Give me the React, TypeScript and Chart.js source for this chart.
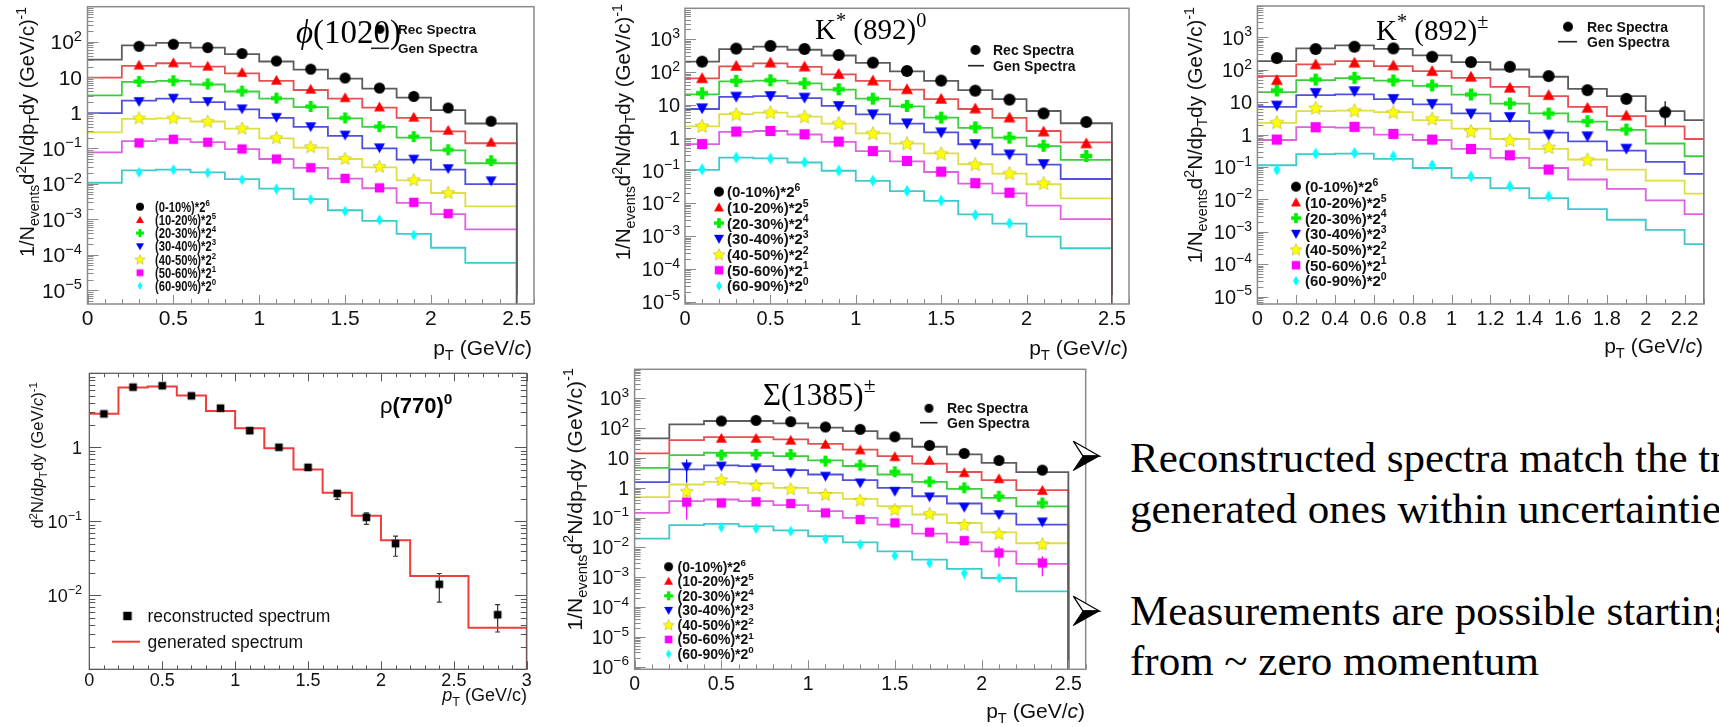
import React, { useEffect, useRef } from "react";
import { Chart, registerables } from "chart.js";

Chart.register(...registerables);

// ======================= DATA =======================
const CENTRALITY = ["(0-10%)*2", "(10-20%)*2", "(20-30%)*2", "(30-40%)*2", "(40-50%)*2", "(50-60%)*2", "(60-90%)*2"];
const SCALE_EXP = ["6", "5", "4", "3", "2", "1", "0"];

// phi(1020)
const PHI_EDGES = [0, 0.2, 0.4, 0.6, 0.8, 1.0, 1.2, 1.4, 1.6, 1.8, 2.0, 2.2, 2.5];
const PHI_PT = [0.3, 0.5, 0.7, 0.9, 1.1, 1.3, 1.5, 1.7, 1.9, 2.1, 2.35];
const PHI_REC = [
  [75, 86, 69, 47, 29, 17, 9.6, 5.0, 2.9, 1.38, 0.58],
  [22, 25.5, 20.5, 13.6, 8.2, 4.6, 2.66, 1.45, 0.75, 0.32, 0.148],
  [7.7, 8.05, 6.5, 4.1, 2.6, 1.51, 0.72, 0.41, 0.214, 0.091, 0.045],
  [2.1, 2.6, 2.1, 1.3, 0.75, 0.41, 0.238, 0.104, 0.05, 0.027, 0.0122],
  [0.72, 0.72, 0.58, 0.37, 0.2, 0.111, 0.052, 0.031, 0.013, 0.0057, null],
  [0.142, 0.18, 0.148, 0.096, 0.05, 0.0284, 0.0142, 0.0077, 0.003, 0.00145, null],
  [0.021, 0.0249, 0.0205, 0.013, 0.0071, 0.0036, 0.00168, 0.00096, 0.00036, null, null],
];
const PHI_GEN = [
  [31.6, 80, 94, 69, 45, 28, 16.5, 9.2, 4.8, 2.7, 1.2, 0.5],
  [9.8, 21, 25, 20, 13, 8, 4.4, 2.5, 1.4, 0.72, 0.3, 0.139],
  [3.1, 7.5, 8, 6.3, 4.0, 2.5, 1.45, 0.7, 0.4, 0.2, 0.088, 0.038],
  [0.98, 2.2, 2.5, 2.0, 1.25, 0.72, 0.4, 0.225, 0.1, 0.048, 0.025, 0.0098],
  [0.28, 0.68, 0.7, 0.57, 0.36, 0.19, 0.105, 0.05, 0.029, 0.0125, 0.0055, 0.0023],
  [0.077, 0.16, 0.18, 0.15, 0.095, 0.05, 0.028, 0.014, 0.0075, 0.0029, 0.0014, 0.00052],
  [0.0107, 0.024, 0.025, 0.021, 0.0135, 0.0073, 0.0037, 0.0018, 0.0009, 0.00039, 0.000158, 0.0000594],
];

// K*(892)0
const K0_EDGES = [0, 0.2, 0.4, 0.6, 0.8, 1.0, 1.2, 1.4, 1.6, 1.8, 2.0, 2.2, 2.5];
const K0_PT = [0.1, 0.3, 0.5, 0.7, 0.9, 1.1, 1.3, 1.5, 1.7, 1.9, 2.1, 2.35];
const K0_REC = [
  [208, 519, 627, 507, 333, 194, 108, 55, 27.2, 14.5, 5.5, 3.0],
  [64.7, 154, 194, 147, 87.7, 55, 29.9, 15.2, 7.7, 4.1, 1.53, 0.67],
  [22.6, 53.7, 56.3, 45.6, 29.9, 15.5, 9.3, 4.1, 2.07, 1.0, 0.57, 0.277],
  [7.9, 17.9, 18.7, 16.7, 9.3, 5.2, 2.75, 1.46, 0.64, 0.31, 0.158, null],
  [2.28, 5.2, 5.9, 4.4, 2.75, 1.36, 0.67, 0.33, 0.155, 0.082, 0.041, null],
  [0.64, 1.53, 1.6, 1.27, 0.76, 0.39, 0.195, 0.092, 0.041, 0.021, null, null],
  [0.109, 0.247, 0.23, 0.178, 0.099, 0.049, 0.0238, 0.012, 0.0044, 0.00246, null, null],
];
const K0_GEN = [
  [208, 500, 600, 480, 320, 190, 105, 54, 28, 15, 6.5, 2.75],
  [64, 150, 185, 145, 85, 54, 29, 15, 7.5, 4.0, 1.6, 0.72],
  [21, 52, 55, 45, 29, 15.5, 9, 4.1, 2.0, 1.0, 0.55, 0.21],
  [7.5, 17.5, 18.5, 16, 9.3, 5.1, 2.7, 1.45, 0.63, 0.31, 0.15, 0.055],
  [2.2, 5.2, 5.8, 4.4, 2.7, 1.35, 0.66, 0.33, 0.155, 0.08, 0.038, 0.0142],
  [0.64, 1.5, 1.6, 1.25, 0.75, 0.39, 0.19, 0.09, 0.04, 0.02, 0.0085, 0.0033],
  [0.105, 0.245, 0.235, 0.175, 0.098, 0.048, 0.0235, 0.0118, 0.0046, 0.0024, 0.00096, 0.000425],
];

// K*(892)+-
const KPM_EDGES = [0, 0.2, 0.4, 0.6, 0.8, 1.0, 1.2, 1.4, 1.6, 1.8, 2.0, 2.2, 2.3];
const KPM_PT = [0.1, 0.3, 0.5, 0.7, 0.9, 1.1, 1.3, 1.5, 1.7, 1.9, 2.1];
const KPM_REC = [
  [230, 436, 514, 457, 252, 173, 124, 63.7, 23.5, 12.7, 4.9],
  [47.9, 146, 165, 136, 91, 60.8, 27.8, 16.5, 6.7, 3.87, null],
  [23, 50, 56.6, 46.8, 32.8, 17.3, 9.1, 4.46, 2.58, 1.43, null],
  [7.9, 19.4, 21.9, 12.7, 8.9, 4.46, 3.5, 1.0, 0.89, 0.37, null],
  [2.4, 6.7, 5.5, 4.9, 3.1, 1.27, 0.67, 0.41, 0.169, null, null],
  [0.7, 1.69, 1.73, 1.05, 0.7, 0.36, 0.23, 0.083, null, null, null],
  [0.083, 0.258, 0.271, 0.214, 0.113, 0.051, 0.0252, 0.0124, null, null, null],
];
const KPM_GEN = [
  [185, 457, 566, 440, 277, 173, 102, 61, 25.8, 15.3, 5.3, 2.8],
  [63.7, 146, 185, 130, 91, 56.6, 29.8, 15.3, 7.2, 3.7, 1.8, 0.73],
  [20.4, 48, 55, 46, 32, 17, 9, 4.5, 2.5, 1.4, 0.53, 0.214],
  [7.2, 16.5, 17.3, 12.5, 8.5, 4.5, 2.6, 1.15, 0.62, 0.32, 0.143, 0.061],
  [2.3, 5.3, 5.5, 4.9, 2.8, 1.53, 0.73, 0.36, 0.17, 0.083, 0.038, 0.015],
  [0.68, 1.69, 1.65, 1.0, 0.68, 0.36, 0.19, 0.093, 0.041, 0.021, 0.0093, 0.0035],
  [0.113, 0.25, 0.258, 0.177, 0.093, 0.046, 0.0224, 0.011, 0.005, 0.00235, 0.00115, 0.000416],
];
// [series, point index, low, high]
const KPM_ERR = [[0, 10, 1.8, 10.7]];

// Sigma(1385)+-
const SIG_EDGES = [0, 0.2, 0.4, 0.6, 0.8, 1.0, 1.2, 1.4, 1.6, 1.8, 2.0, 2.2, 2.5];
const SIG_PT = [0.3, 0.5, 0.7, 0.9, 1.1, 1.3, 1.5, 1.7, 1.9, 2.1, 2.35];
const SIG_REC = [
  [null, 175, 184, 166, 110, 91.6, 51.9, 26.5, 14.3, 8.3, 3.93],
  [null, 45.6, 45.6, 39.1, 28.7, 18.5, 11.0, 8.3, 3.2, 2.0, 0.81],
  [null, 12.6, 13.2, 13.2, 7.9, 5.8, 3.45, 1.59, 1.0, 0.52, 0.31],
  [5.1, 5.4, 4.7, 3.2, 2.47, 1.47, 0.77, 0.5, 0.224, 0.127, 0.072],
  [0.77, 1.9, 1.2, 0.925, 0.6, 0.385, 0.187, 0.137, 0.058, 0.029, 0.0131],
  [0.33, 0.31, 0.34, 0.297, 0.144, 0.086, 0.0665, 0.0323, 0.0169, 0.0065, 0.003],
  [null, 0.0475, 0.0429, 0.0349, 0.0193, 0.0124, 0.0053, 0.003, 0.00138, 0.00094, null],
];
const SIG_GEN = [
  [45.6, 135, 175, 175, 146, 104, 80.5, 44.5, 23.9, 13.2, 6.9, 3.37],
  [14.3, 40, 50, 50, 42, 30, 19, 11.5, 6.5, 3.4, 1.8, 0.83],
  [4.7, 12.6, 15, 15, 11.6, 8.3, 5.4, 2.8, 1.59, 0.925, 0.46, 0.24],
  [1.55, 4.14, 5.64, 5.36, 3.93, 2.8, 1.81, 1.0, 0.52, 0.297, 0.137, 0.058],
  [0.485, 1.29, 1.59, 1.4, 1.0, 0.678, 0.427, 0.242, 0.127, 0.066, 0.032, 0.0138],
  [0.144, 0.356, 0.405, 0.356, 0.261, 0.165, 0.098, 0.058, 0.029, 0.0148, 0.0073, 0.0028],
  [0.0198, 0.0555, 0.0615, 0.051, 0.0375, 0.0237, 0.0148, 0.0073, 0.0039, 0.0019, 0.00094, 0.000335],
];
const SIG_ERR = [
  [3, 0, 1.47, 8.97], [4, 0, 0.356, 1.47], [5, 0, 0.086, 0.46],
  [5, 9, 0.0023, 0.0109], [5, 10, 0.00107, 0.005], [4, 10, 0.0085, 0.0183],
  [4, 9, 0.0208, 0.04], [6, 8, 0.00083, 0.002], [6, 9, 0.00068, 0.0012], [3, 10, 0.055, 0.09],
];

// rho(770)0
const RHO_EDGES = [0, 0.2, 0.4, 0.6, 0.8, 1.0, 1.2, 1.4, 1.6, 1.8, 2.0, 2.2, 2.6, 3.0];
const RHO_GEN = [2.83, 6.43, 6.63, 5.0, 3.1, 1.81, 0.97, 0.5, 0.243, 0.119, 0.0556, 0.0183, 0.00365];
const RHO_PT = [0.1, 0.3, 0.5, 0.7, 0.9, 1.1, 1.3, 1.5, 1.7, 1.9, 2.1, 2.4, 2.8];
const RHO_REC = [2.83, 6.5, 6.8, 4.96, 3.38, 1.68, 1.0, 0.536, 0.238, 0.113, 0.05, 0.0141, 0.00547];
const RHO_LO = [2.75, 6.4, 6.7, 4.88, 3.3, 1.64, 0.97, 0.49, 0.198, 0.0906, 0.0337, 0.0081, 0.00319];
const RHO_HI = [2.91, 6.6, 6.9, 5.04, 3.46, 1.72, 1.03, 0.58, 0.259, 0.13, 0.063, 0.0197, 0.00748];

// tick values
const X_TICKS_25 = [0, 0.5, 1, 1.5, 2, 2.5];
const X_TICKS_KPM = [0, 0.2, 0.4, 0.6, 0.8, 1, 1.2, 1.4, 1.6, 1.8, 2, 2.2];
const X_TICKS_RHO = [0, 0.5, 1, 1.5, 2, 2.5, 3];
const Y_DEC_PHI = [2, 1, 0, -1, -2, -3, -4, -5];
const Y_DEC_K = [3, 2, 1, 0, -1, -2, -3, -4, -5];
const Y_DEC_SIG = [3, 2, 1, 0, -1, -2, -3, -4, -5, -6];
const Y_DEC_RHO = [0, -1, -2];

// slide text
const BULLET_LINES = [
  "Reconstructed spectra match the true",
  "generated ones within uncertainties",
  "Measurements are possible starting",
  "from ~ zero momentum",
];

// ======================= STYLE =======================
const SANS = '"Liberation Sans", Arial, Helvetica, sans-serif';
const SERIF = '"Liberation Serif", "Times New Roman", serif';
const MARK_COLORS = ["#000000", "#ff0000", "#00ee00", "#0000ff", "#ffff00", "#ff00ff", "#00ffff"];
const LINE_COLORS = ["#5c5c5c", "#e65050", "#3fcc3f", "#5050dc", "#dede48", "#e060e0", "#3ecaca"];
const SHAPES = ["circle", "triUp", "cross", "triDown", "star", "square", "diamond"];

type Seg = { t: string; s?: "sup" | "sub"; i?: boolean; b?: boolean };

const Y_TITLE: Seg[] = [
  { t: "1/N" }, { t: "events", s: "sub" }, { t: "d" }, { t: "2", s: "sup" }, { t: "N/dp" }, { t: "T", s: "sub" },
  { t: "dy (GeV/c)" }, { t: "-1", s: "sup" },
];
const X_TITLE: Seg[] = [{ t: "p" }, { t: "T", s: "sub" }, { t: " (GeV/" }, { t: "c", i: true }, { t: ")" }];
const RHO_Y_TITLE: Seg[] = [
  { t: "d" }, { t: "2", s: "sup" }, { t: "N/d" }, { t: "p", i: true }, { t: "T", s: "sub" }, { t: "dy (GeV/" },
  { t: "c", i: true }, { t: ")" }, { t: "-1", s: "sup" },
];
const RHO_X_TITLE: Seg[] = [{ t: "p", i: true }, { t: "T", s: "sub" }, { t: " (GeV/c)" }];

function makeMarker(shape: string, color: string, size: number): HTMLCanvasElement {
  const S = Math.ceil(size + 4);
  const c = document.createElement("canvas");
  c.width = S;
  c.height = S;
  const g = c.getContext("2d") as CanvasRenderingContext2D;
  const cx = S / 2, cy = S / 2, r = size / 2;
  g.fillStyle = color;
  g.beginPath();
  if (shape === "circle") {
    g.arc(cx, cy, r, 0, Math.PI * 2);
  } else if (shape === "triUp") {
    g.moveTo(cx, cy - r); g.lineTo(cx + r, cy + r * 0.78); g.lineTo(cx - r, cy + r * 0.78);
  } else if (shape === "triDown") {
    g.moveTo(cx, cy + r); g.lineTo(cx + r, cy - r * 0.78); g.lineTo(cx - r, cy - r * 0.78);
  } else if (shape === "cross") {
    const a = r * 0.36;
    g.moveTo(cx - a, cy - r); g.lineTo(cx + a, cy - r); g.lineTo(cx + a, cy - a); g.lineTo(cx + r, cy - a);
    g.lineTo(cx + r, cy + a); g.lineTo(cx + a, cy + a); g.lineTo(cx + a, cy + r); g.lineTo(cx - a, cy + r);
    g.lineTo(cx - a, cy + a); g.lineTo(cx - r, cy + a); g.lineTo(cx - r, cy - a); g.lineTo(cx - a, cy - a);
  } else if (shape === "star") {
    for (let k = 0; k < 10; k++) {
      const ang = -Math.PI / 2 + (k * Math.PI) / 5;
      const rr = k % 2 === 0 ? r * 1.05 : r * 0.5;
      const px = cx + rr * Math.cos(ang), py = cy + rr * Math.sin(ang) + r * 0.08;
      if (k === 0) g.moveTo(px, py); else g.lineTo(px, py);
    }
  } else if (shape === "square") {
    g.rect(cx - r * 0.85, cy - r * 0.85, r * 1.7, r * 1.7);
  } else if (shape === "diamond") {
    g.moveTo(cx, cy - r); g.lineTo(cx + r * 0.6, cy); g.lineTo(cx, cy + r); g.lineTo(cx - r * 0.6, cy);
  }
  g.closePath();
  g.fill();
  if (shape === "star") {
    g.strokeStyle = "rgba(150,150,40,0.55)";
    g.lineWidth = 0.8;
    g.stroke();
  }
  return c;
}

function fontStr(size: number, fam: string, i?: boolean, b?: boolean) {
  return `${i ? "italic " : ""}${b ? "bold " : ""}${size}px ${fam}`;
}

function drawRich(
  ctx: CanvasRenderingContext2D, segs: Seg[], x: number, y: number, size: number, fam: string,
  align: string, bold = false, color = "#111", rotate = false, sx = 1
) {
  ctx.save();
  let w = 0;
  for (const s of segs) {
    ctx.font = fontStr(s.s ? size * 0.7 : size, fam, s.i, s.b ?? bold);
    w += ctx.measureText(s.t).width;
  }
  ctx.fillStyle = color;
  ctx.textBaseline = "alphabetic";
  ctx.textAlign = "left";
  if (rotate) {
    ctx.translate(x, y);
    ctx.rotate(-Math.PI / 2);
    x = 0;
    y = 0;
  }
  const W = w * sx;
  const start = align === "left" ? x : align === "right" ? x - W : x - W / 2;
  ctx.translate(start, y);
  ctx.scale(sx, 1);
  let x0 = 0;
  for (const s of segs) {
    const sz = s.s ? size * 0.7 : size;
    ctx.font = fontStr(sz, fam, s.i, s.b ?? bold);
    const dy = s.s === "sup" ? -size * 0.42 : s.s === "sub" ? size * 0.24 : 0;
    ctx.fillText(s.t, x0, dy);
    x0 += ctx.measureText(s.t).width;
  }
  ctx.restore();
}

function decadeSegs(d: number): Seg[] {
  if (d === 0) return [{ t: "1" }];
  if (d === 1) return [{ t: "10" }];
  return [{ t: "10" }, { t: d < 0 ? "\u2212" + -d : String(d), s: "sup" }];
}

function fmtTick(v: number) {
  return String(Number(v.toFixed(2)));
}

// ======================= PANELS =======================
type Box = { x: number; y: number; w: number; h: number };
const BOX_PHI: Box = { x: 0, y: 0, w: 560, h: 360 };
const BOX_K0: Box = { x: 560, y: 0, w: 580, h: 360 };
const BOX_KPM: Box = { x: 1140, y: 0, w: 579, h: 360 };
const BOX_RHO: Box = { x: 0, y: 360, w: 540, h: 367 };
const BOX_SIG: Box = { x: 540, y: 360, w: 560, h: 367 };

function histPoints(edges: number[], vals: number[], floor: number) {
  const pts = vals.map((v, i) => ({ x: edges[i], y: v }));
  pts.push({ x: edges[edges.length - 1], y: vals[vals.length - 1] });
  pts.push({ x: edges[edges.length - 1], y: floor });
  return pts;
}
function recPoints(xs: number[], vals: (number | null)[]) {
  return xs.map((x, i) => ({ x, y: vals[i] })).filter((p) => p.y !== null && p.y !== undefined);
}

function multiDatasets(edges: number[], pt: number[], rec: any[], gen: number[][], yMin: number, msize: number) {
  const ds: any[] = [];
  for (let s = 0; s < 7; s++) {
    ds.push({
      type: "scatter",
      data: recPoints(pt, rec[s]),
      pointStyle: makeMarker(SHAPES[s], MARK_COLORS[s], SHAPES[s] === "star" ? msize + 2 : msize),
      pointRadius: 5,
      order: 0,
    });
  }
  for (let s = 0; s < 7; s++) {
    ds.push({
      type: "line",
      data: histPoints(edges, gen[s], yMin),
      borderColor: LINE_COLORS[s],
      borderWidth: 1.8,
      pointRadius: 0,
      stepped: true,
      fill: false,
      tension: 0,
      order: 1,
    });
  }
  return ds;
}

function errList(pt: number[], list: number[][]) {
  return list.map((e) => ({
    x: pt[e[1]], lo: e[2], hi: e[3], color: MARK_COLORS[e[0]] === "#ffff00" ? "#d8d800" : MARK_COLORS[e[0]], cap: 0,
  }));
}

function buildPanels(): any[] {
  const top = (o: any) => ({
    frameColor: "#8a8a8a", frameWidth: 1.5, mirror: false,
    xTickLen: [9, 5], yTickLen: [11, 6], xMinor: 0.1, ...o,
  });
  const phiMin = 4.1e-6, phiMax = 980;
  const k0Min = 8.5e-6, k0Max = 8800;
  const kpmMin = 5.9e-6, kpmMax = 9300;
  const sigMin = 8.1e-7, sigMax = 9500;
  return [
    top({
      box: BOX_PHI, frame: { l: 87.5, t: 6.7, r: 534, b: 304 },
      xMin: 0, xMax: 2.6, yMin: phiMin, yMax: phiMax,
      xTicks: X_TICKS_25, yDecades: Y_DEC_PHI, tickFont: 21, xLabelY: 317, yLabelX: 82,
      xTitle: { segs: X_TITLE, size: 21, x: 532, y: 347 },
      yTitle: { segs: Y_TITLE, size: 20, cx: 27, top: 7 },
      title: { segs: [{ t: "\u03d5", i: true }, { t: "(1020)" }], size: 33, x: 296, y: 43, fam: SERIF },
      cent: { mx: 140, tx: 155, y0: 206.7, dy: 13.2, size: 14, sx: 0.8, msize: 8 },
      recGen: { mx: 380, tx: 398, y1: 29.3, y2: 48.3, lx1: 371, lx2: 389, size: 13.5, msize: 9 },
      datasets: multiDatasets(PHI_EDGES, PHI_PT, PHI_REC, PHI_GEN, phiMin, 11),
      errors: [],
    }),
    top({
      box: BOX_K0, frame: { l: 685, t: 8.3, r: 1129, b: 304 },
      xMin: 0, xMax: 2.6, yMin: k0Min, yMax: k0Max,
      xTicks: X_TICKS_25, yDecades: Y_DEC_K, tickFont: 20, xLabelY: 318, yLabelX: 680,
      xTitle: { segs: X_TITLE, size: 21, x: 1128, y: 347 },
      yTitle: { segs: Y_TITLE, size: 20.5, cx: 623, top: 4 },
      title: { segs: [{ t: "K" }, { t: "*", s: "sup" }, { t: " (892)" }, { t: "0", s: "sup" }], size: 29, x: 815, y: 39, fam: SERIF },
      cent: { mx: 719, tx: 727, y0: 191.7, dy: 15.7, size: 15, sx: 1, msize: 10 },
      recGen: { mx: 975.5, tx: 993, y1: 50, y2: 65.7, lx1: 968, lx2: 984, size: 14, msize: 10 },
      datasets: multiDatasets(K0_EDGES, K0_PT, K0_REC, K0_GEN, k0Min, 12),
      errors: [],
    }),
    top({
      box: BOX_KPM, frame: { l: 1257.4, t: 6, r: 1704, b: 304 },
      xMin: 0, xMax: 2.3, yMin: kpmMin, yMax: kpmMax,
      xTicks: X_TICKS_KPM, yDecades: Y_DEC_K, tickFont: 20, xLabelY: 318, yLabelX: 1252,
      xTitle: { segs: X_TITLE, size: 21, x: 1703, y: 345 },
      yTitle: { segs: Y_TITLE, size: 20.5, cx: 1195, top: 7 },
      title: { segs: [{ t: "K" }, { t: "*", s: "sup" }, { t: " (892)" }, { t: "\u00b1", s: "sup" }], size: 29, x: 1376, y: 40, fam: SERIF },
      cent: { mx: 1296, tx: 1305, y0: 186.7, dy: 15.7, size: 15, sx: 1, msize: 10 },
      recGen: { mx: 1568, tx: 1587, y1: 26.7, y2: 41.7, lx1: 1558, lx2: 1577, size: 14, msize: 10 },
      datasets: multiDatasets(KPM_EDGES, KPM_PT, KPM_REC, KPM_GEN, kpmMin, 12),
      errors: errList(KPM_PT, KPM_ERR),
    }),
    top({
      box: BOX_SIG, frame: { l: 634.6, t: 369.3, r: 1085.7, b: 669.3 },
      xMin: 0, xMax: 2.6, yMin: sigMin, yMax: sigMax,
      xTicks: X_TICKS_25, yDecades: Y_DEC_SIG, tickFont: 19.5, xLabelY: 683, yLabelX: 629,
      xTitle: { segs: X_TITLE, size: 21, x: 1085, y: 710 },
      yTitle: { segs: Y_TITLE, size: 21, cx: 574, top: 368 },
      title: { segs: [{ t: "\u03a3(1385)" }, { t: "\u00b1", s: "sup" }], size: 31, x: 763, y: 405, fam: SERIF },
      cent: { mx: 668.6, tx: 677.5, y0: 566.7, dy: 14.55, size: 14, sx: 1, msize: 9 },
      recGen: { mx: 929, tx: 947, y1: 408.3, y2: 422.7, lx1: 920, lx2: 937.5, size: 14, msize: 9 },
      datasets: multiDatasets(SIG_EDGES, SIG_PT, SIG_REC, SIG_GEN, sigMin, 11),
      errors: errList(SIG_PT, SIG_ERR),
    }),
    {
      box: BOX_RHO, frame: { l: 89.3, t: 373.3, r: 526.8, b: 669.3 },
      frameColor: "#555", frameWidth: 1.2, mirror: true, xTickLen: [8, 4], yTickLen: [12, 6], xMinor: 0.1,
      xMin: 0, xMax: 3, yMin: 1e-3, yMax: 10,
      xTicks: X_TICKS_RHO, yDecades: Y_DEC_RHO, tickFont: 18, xLabelY: 680, yLabelX: 82,
      xTitle: { segs: RHO_X_TITLE, size: 18, x: 527, y: 695 },
      yTitle: { segs: RHO_Y_TITLE, size: 16.5, cx: 37.5, top: 382 },
      title: { segs: [{ t: "\u03c1" }, { t: "(770)", b: true }, { t: "0", s: "sup", b: true }], size: 22, x: 380, y: 413, fam: SANS },
      rhoLeg: { mx: 127.5, tx: 147.5, y1: 616, y2: 641.7, lx1: 112, lx2: 140, size: 17.5 },
      datasets: [
        {
          type: "scatter",
          data: RHO_PT.map((x, i) => ({ x, y: RHO_REC[i] })),
          pointStyle: makeMarker("square", "#000", 9),
          pointRadius: 5,
          order: 0,
        },
        {
          type: "line",
          data: histPoints(RHO_EDGES, RHO_GEN, 1e-3),
          borderColor: "#f23c3c",
          borderWidth: 2,
          pointRadius: 0,
          stepped: true,
          fill: false,
          order: 1,
        },
      ],
      errors: RHO_PT.map((x, i) => ({ x, lo: RHO_LO[i], hi: RHO_HI[i], color: "#333", cap: 2.5 })),
    },
  ];
}

function decoPlugin(p: any) {
  return {
    id: "rootDeco",
    beforeDatasetsDraw(chart: any) {
      const ctx = chart.ctx as CanvasRenderingContext2D;
      const xs = chart.scales.x, ys = chart.scales.y;
      ctx.save();
      for (const e of p.errors) {
        const X = xs.getPixelForValue(e.x);
        const y1 = ys.getPixelForValue(e.lo), y2 = ys.getPixelForValue(e.hi);
        ctx.strokeStyle = e.color;
        ctx.lineWidth = 1.2;
        ctx.beginPath();
        ctx.moveTo(X, y1);
        ctx.lineTo(X, y2);
        if (e.cap) {
          ctx.moveTo(X - e.cap, y1); ctx.lineTo(X + e.cap, y1);
          ctx.moveTo(X - e.cap, y2); ctx.lineTo(X + e.cap, y2);
        }
        ctx.stroke();
      }
      ctx.restore();
    },
    afterDraw(chart: any) {
      const ctx = chart.ctx as CanvasRenderingContext2D;
      const { left, right, top, bottom } = chart.chartArea;
      const xs = chart.scales.x, ys = chart.scales.y;
      const ox = p.box.x, oy = p.box.y;
      ctx.save();
      // frame
      ctx.strokeStyle = p.frameColor;
      ctx.lineWidth = p.frameWidth;
      ctx.strokeRect(left, top, right - left, bottom - top);
      // ticks
      ctx.lineWidth = 1;
      ctx.beginPath();
      const n = Math.round((p.xMax - p.xMin) / p.xMinor);
      for (let k = 0; k <= n; k++) {
        const v = p.xMin + k * p.xMinor;
        const major = p.xTicks.some((t: number) => Math.abs(t - v) < 1e-6);
        const L = major ? p.xTickLen[0] : p.xTickLen[1];
        const X = Math.round(xs.getPixelForValue(v)) + 0.5;
        ctx.moveTo(X, bottom); ctx.lineTo(X, bottom - L);
        if (p.mirror) { ctx.moveTo(X, top); ctx.lineTo(X, top + L); }
      }
      const lmin = Math.floor(Math.log10(p.yMin)), lmax = Math.ceil(Math.log10(p.yMax));
      for (let d = lmin; d <= lmax; d++) {
        for (let m = 1; m <= 9; m++) {
          const v = m * Math.pow(10, d);
          if (v < p.yMin || v > p.yMax) continue;
          const Y = Math.round(ys.getPixelForValue(v)) + 0.5;
          const L = m === 1 ? p.yTickLen[0] : p.yTickLen[1];
          ctx.moveTo(left, Y); ctx.lineTo(left + L, Y);
          if (p.mirror) { ctx.moveTo(right, Y); ctx.lineTo(right - L, Y); }
        }
      }
      ctx.stroke();
      // tick labels
      for (const t of p.xTicks) {
        const X = xs.getPixelForValue(t);
        drawRich(ctx, [{ t: fmtTick(t) }], X, p.xLabelY - oy + p.tickFont * 0.36, p.tickFont, SANS, "center");
      }
      for (const d of p.yDecades) {
        const Y = ys.getPixelForValue(Math.pow(10, d));
        drawRich(ctx, decadeSegs(d), p.yLabelX - ox, Y + p.tickFont * 0.36, p.tickFont, SANS, "right");
      }
      // axis titles
      drawRich(ctx, p.xTitle.segs, p.xTitle.x - ox, p.xTitle.y - oy + p.xTitle.size * 0.36, p.xTitle.size, SANS, "right");
      drawRich(ctx, p.yTitle.segs, p.yTitle.cx - ox + p.yTitle.size * 0.36, p.yTitle.top - oy, p.yTitle.size, SANS, "right", false, "#111", true);
      // centrality legend
      if (p.cent) {
        for (let i = 0; i < 7; i++) {
          const Y = p.cent.y0 + i * p.cent.dy - oy;
          const m = makeMarker(SHAPES[i], MARK_COLORS[i], SHAPES[i] === "star" ? p.cent.msize + 2 : p.cent.msize);
          ctx.drawImage(m, p.cent.mx - ox - m.width / 2, Y - m.height / 2);
          drawRich(ctx, [{ t: CENTRALITY[i] }, { t: SCALE_EXP[i], s: "sup" }], p.cent.tx - ox, Y + p.cent.size * 0.36,
            p.cent.size, SANS, "left", true, "#111", false, p.cent.sx);
        }
      }
      if (p.recGen) {
        const r = p.recGen;
        const m = makeMarker("circle", "#000", r.msize);
        ctx.drawImage(m, r.mx - ox - m.width / 2, r.y1 - oy - m.height / 2);
        drawRich(ctx, [{ t: "Rec Spectra" }], r.tx - ox, r.y1 - oy + r.size * 0.36, r.size, SANS, "left", true);
        ctx.strokeStyle = "#222";
        ctx.lineWidth = 1.6;
        ctx.beginPath();
        ctx.moveTo(r.lx1 - ox, r.y2 - oy);
        ctx.lineTo(r.lx2 - ox, r.y2 - oy);
        ctx.stroke();
        drawRich(ctx, [{ t: "Gen Spectra" }], r.tx - ox, r.y2 - oy + r.size * 0.36, r.size, SANS, "left", true);
      }
      if (p.rhoLeg) {
        const r = p.rhoLeg;
        const m = makeMarker("square", "#000", 10);
        ctx.drawImage(m, r.mx - ox - m.width / 2, r.y1 - oy - m.height / 2);
        drawRich(ctx, [{ t: "reconstructed spectrum" }], r.tx - ox, r.y1 - oy + r.size * 0.36, r.size, SANS, "left");
        ctx.strokeStyle = "#f23c3c";
        ctx.lineWidth = 2;
        ctx.beginPath();
        ctx.moveTo(r.lx1 - ox, r.y2 - oy);
        ctx.lineTo(r.lx2 - ox, r.y2 - oy);
        ctx.stroke();
        drawRich(ctx, [{ t: "generated spectrum" }], r.tx - ox, r.y2 - oy + r.size * 0.36, r.size, SANS, "left");
      }
      // title
      drawRich(ctx, p.title.segs, p.title.x - ox, p.title.y - oy, p.title.size, p.title.fam, "left", false, "#000");
      ctx.restore();
    },
  };
}

function PanelCanvas({ index, box }: { index: number; box: Box }) {
  const ref = useRef<HTMLCanvasElement | null>(null);
  useEffect(() => {
    const p = buildPanels()[index];
    const canvas = ref.current as HTMLCanvasElement;
    const chart = new Chart(canvas, {
      type: "scatter",
      data: { datasets: p.datasets },
      options: {
        responsive: false,
        animation: false,
        devicePixelRatio: 1,
        events: [],
        layout: {
          padding: {
            left: p.frame.l - box.x,
            top: p.frame.t - box.y,
            right: box.x + box.w - p.frame.r,
            bottom: box.y + box.h - p.frame.b,
          },
        },
        plugins: { legend: { display: false }, tooltip: { enabled: false }, title: { display: false } },
        scales: {
          x: { type: "linear", min: p.xMin, max: p.xMax, display: false },
          y: { type: "logarithmic", min: p.yMin, max: p.yMax, display: false },
        },
      } as any,
      plugins: [decoPlugin(p)],
    } as any);
    return () => chart.destroy();
  }, [index, box]);
  return (
    <canvas
      ref={ref}
      width={box.w}
      height={box.h}
      style={{ position: "absolute", left: box.x, top: box.y, width: box.w, height: box.h }}
    />
  );
}

const PANEL_BOXES = [BOX_PHI, BOX_K0, BOX_KPM, BOX_SIG, BOX_RHO];
const LINE_BASELINES = [471.5, 523, 625, 675];
const ARROW_CENTERS = [455.5, 610.5];

function ArrowBullet({ cy }: { cy: number }) {
  return (
    <svg
      width={30}
      height={32}
      style={{ position: "absolute", left: 1072, top: cy - 16 }}
    >
      <polygon points="1.3,1.2 27.3,16 11,16" fill="#fff" stroke="#000" strokeWidth={1.3} strokeLinejoin="miter" />
      <polygon points="11,16 27.3,16 1.3,30.5" fill="#000" stroke="#000" strokeWidth={1} />
    </svg>
  );
}

export default function App() {
  useEffect(() => {
    document.body.style.margin = "0";
    document.body.style.overflow = "hidden";
  }, []);
  return (
    <div style={{ position: "absolute", left: 0, top: 0, width: 1719, height: 727, overflow: "hidden", background: "#fff" }}>
      {PANEL_BOXES.map((b, i) => (
        <PanelCanvas key={i} index={i} box={b} />
      ))}
      {ARROW_CENTERS.map((c, i) => (
        <ArrowBullet key={"a" + i} cy={c} />
      ))}
      {BULLET_LINES.map((t, i) => (
        <div
          key={"t" + i}
          style={{
            position: "absolute", left: 1130, top: LINE_BASELINES[i] - 36, fontFamily: SERIF,
            fontSize: 43, lineHeight: "43px", color: "#000", whiteSpace: "nowrap",
          }}
        >
          {t}
        </div>
      ))}
    </div>
  );
}
